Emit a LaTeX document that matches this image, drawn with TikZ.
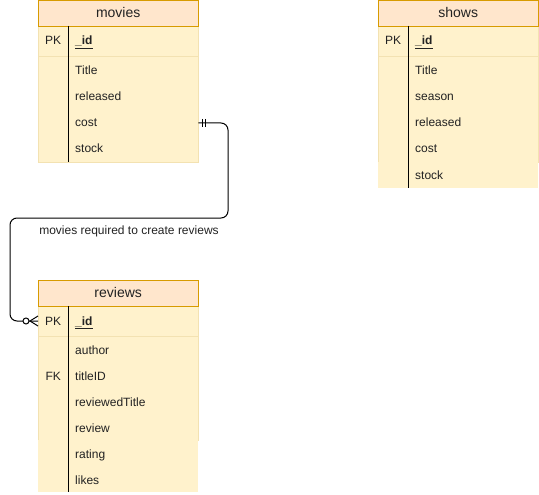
\documentclass[tikz,border=0pt]{standalone}
\usepackage{fontspec}
\setmainfont{Liberation Sans}
\definecolor{hdrfill}{HTML}{FFE6CC}
\definecolor{hdrline}{HTML}{D79B00}
\definecolor{rowfill}{HTML}{FFF2CC}
\definecolor{rowline}{HTML}{F3E2B2}
\definecolor{ink}{HTML}{222222}

\begin{document}
\begin{tikzpicture}[x=1pt,y=-1pt,
    title/.style={draw=hdrline,fill=hdrfill,anchor=north west,minimum width=160pt,
      minimum height=26pt,inner sep=0pt,text height=11pt,text depth=2pt,
      text=ink,font=\fontsize{14}{16}\selectfont},
    keycell/.style={anchor=west,minimum width=30pt,minimum height=26pt,inner sep=0pt,
      text height=10pt,text depth=2pt,text=ink,font=\fontsize{12}{14}\selectfont},
    field/.style={anchor=west,minimum width=130pt,minimum height=26pt,text width=116pt,
      inner xsep=7pt,inner ysep=0pt,text height=10pt,text depth=2pt,align=left,
      text=ink,font=\fontsize{12}{14}\selectfont},
    body/.style={fill=rowfill,draw=rowline},
    divider/.style={draw=black,line width=1pt},
    rel/.style={draw=black,line width=1pt}]
    \useasboundingbox (0,0) rectangle (539,495);
    % movies table
    \path[body] (38,26) rectangle (198,162);
    \draw[rowline] (38,56) -- (198,56);
    \node[title] (movies) at (38,0) {movies};
    \draw[divider] (68,26) -- (68,162);
    \node[keycell] (m-pk) at (38,41) {PK};
    \node[field] (m-id) at (68,41) {\underline{\textbf{\_id}}};
    \node[field] (m-title) at (68,71) {Title};
    \node[field] (m-released) at (68,97) {released};
    \node[field] (m-cost) at (68,123) {cost};
    \node[field] (m-stock) at (68,149) {stock};
    % shows table
    \path[body] (378,26) rectangle (538,162);
    \fill[rowfill] (378,162) rectangle (538,188);
    \draw[rowline] (378,56) -- (538,56);
    \node[title] (shows) at (378,0) {shows};
    \draw[divider] (408,26) -- (408,188);
    \node[keycell] (s-pk) at (378,41) {PK};
    \node[field] (s-id) at (408,41) {\underline{\textbf{\_id}}};
    \node[field] (s-title) at (408,71) {Title};
    \node[field] (s-season) at (408,97) {season};
    \node[field] (s-released) at (408,123) {released};
    \node[field] (s-cost) at (408,149) {cost};
    \node[field] (s-stock) at (408,175) {stock};
    % reviews table
    \path[body] (38,306) rectangle (198,440);
    \fill[rowfill] (38,440) rectangle (198,492);
    \draw[rowline] (38,336) -- (198,336);
    \node[title] (reviews) at (38,280) {reviews};
    \draw[divider] (68,306) -- (68,492);
    \node[keycell] (r-pk) at (38,321) {PK};
    \node[field] (r-id) at (68,321) {\underline{\textbf{\_id}}};
    \node[field] (r-author) at (68,350) {author};
    \node[keycell] (r-fk) at (38,376) {FK};
    \node[field] (r-titleid) at (68,376) {titleID};
    \node[field] (r-reviewedtitle) at (68,402) {reviewedTitle};
    \node[field] (r-review) at (68,428) {review};
    \node[field] (r-rating) at (68,454) {rating};
    \node[field] (r-likes) at (68,480) {likes};
    % relationship movies -> reviews
    \coordinate (turn1) at (228,218);
    \coordinate (turn2) at (10,218);
    \draw[rel,rounded corners=7pt] (m-cost.east) -| (turn1) -- (turn2) |- (r-pk.west);
    \draw[rel] ([xshift=4pt]m-cost.east) ++(0,-4) -- ++(0,8);
    \draw[rel] ([xshift=7pt]m-cost.east) ++(0,-4) -- ++(0,8);
    \draw[rel] ([yshift=5pt]r-pk.west) -- ([xshift=-8pt]r-pk.west) -- ([yshift=-5pt]r-pk.west);
    \draw[rel,fill=white] ([xshift=-12pt]r-pk.west) circle (3pt);
    \node[text=ink,font=\fontsize{12}{14}\selectfont] (relname) at (129,231) {movies required to create reviews};
\end{tikzpicture}
\end{document}
